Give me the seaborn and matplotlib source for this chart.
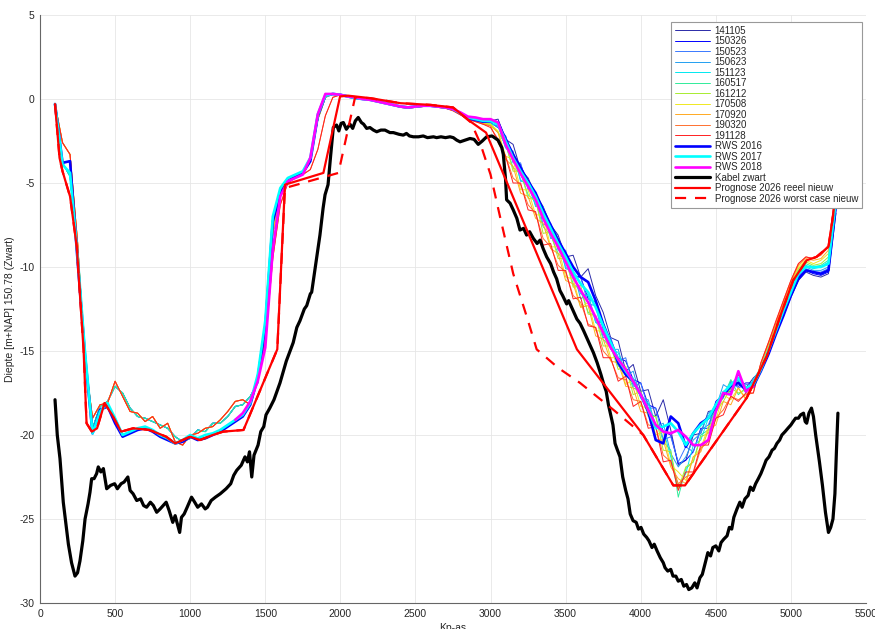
import matplotlib
matplotlib.use('Agg')
import matplotlib.pyplot as plt
import seaborn as sns

# raai-meting: kp om de 50 m
x_grid = list(range(100, 5301, 50))

# westkant (kp 100-1450) en plateau (kp 1500-2950), gedeeld door de lodingen
survey_left_1 = [-0.3, -2.6, -3.3, -8.5, -15.5, -19.0, -18.2, -18.1, -16.8, -17.7,
                 -18.6, -18.7, -19.2, -18.9, -19.6, -19.3, -20.4, -20.6, -20.0, -19.9,
                 -19.6, -19.5, -19.1, -18.6, -18.0, -17.9, -18.2, -16.5]
survey_left_2 = [-0.3, -3.8, -4.6, -9.0, -15.2, -19.6, -18.3, -18.0, -17.1, -17.5,
                 -18.4, -18.9, -19.0, -19.2, -19.4, -19.6, -20.1, -20.4, -20.2, -19.7,
                 -19.8, -19.3, -19.3, -18.9, -18.3, -18.2, -17.7, -16.9]
survey_mid_1 = [-14.0, -8.0, -5.5, -4.8, -4.6, -4.4, -3.6, -1.2, 0.1, 0.3,
                0.25, 0.15, 0.05, 0.0, -0.05, -0.15, -0.25, -0.35, -0.45, -0.5,
                -0.45, -0.4, -0.4, -0.45, -0.5, -0.6, -0.85, -1.15, -1.3, -1.45]
survey_mid_2 = [-14.5, -9.5, -6.3, -5.0, -4.7, -4.5, -4.2, -3.0, -1.0, 0.1,
                0.25, 0.15, 0.05, 0.0, -0.05, -0.15, -0.25, -0.35, -0.5, -0.55,
                -0.5, -0.45, -0.4, -0.5, -0.55, -0.7, -0.95, -1.2, -1.35, -1.5]

# oostelijke helling en geul (kp 3000-4750)
slope_141105 = [-1.3, -1.2, -2.4, -2.7, -4.2, -4.7, -5.7, -6.4, -7.5, -8.1,
                -9.4, -9.3, -10.6, -10.1, -11.7, -12.7, -14.2, -14.4, -16.2, -15.8,
                -17.4, -17.3, -18.9, -17.9, -19.7, -21.8, -21.5, -20.0, -19.9, -18.6,
                -18.5, -17.4, -17.4, -16.4, -17.2, -16.6]
slope_150326 = [-1.4, -1.7, -2.2, -3.5, -3.9, -5.1, -5.6, -7.0, -7.6, -8.6,
                -9.1, -10.5, -10.6, -11.9, -12.1, -13.7, -14.3, -15.4, -15.6, -16.7,
                -16.9, -18.2, -18.4, -19.8, -20.0, -21.7, -21.5, -21.0, -19.6, -19.6,
                -18.0, -17.6, -16.9, -17.1, -16.9, -16.9]
slope_150523 = [-1.4, -1.7, -2.2, -3.8, -3.8, -5.4, -5.5, -7.5, -7.4, -9.0,
                -9.0, -10.7, -10.6, -12.2, -12.3, -14.2, -14.2, -15.6, -15.4, -17.1,
                -16.9, -18.4, -18.4, -20.3, -20.1, -21.6, -20.7, -21.0, -19.7, -19.4,
                -18.3, -17.8, -16.8, -17.2, -17.0, -17.0]
slope_150623 = [-1.5, -1.6, -2.9, -3.1, -4.9, -4.9, -6.4, -6.4, -8.3, -8.3,
                -10.1, -10.2, -11.9, -11.6, -13.3, -13.3, -14.9, -14.9, -16.5, -16.2,
                -17.8, -17.9, -19.5, -19.3, -21.1, -21.9, -21.3, -20.3, -19.9, -18.7,
                -18.4, -17.0, -17.3, -16.7, -17.5, -16.7]
slope_151123 = [-1.5, -1.5, -2.9, -3.4, -4.8, -5.2, -6.3, -6.8, -8.1, -8.6,
                -10.0, -10.4, -11.6, -11.7, -13.3, -13.7, -14.8, -15.1, -16.3, -16.6,
                -17.8, -18.1, -19.5, -19.7, -21.3, -23.1, -22.3, -20.6, -20.3, -19.0,
                -18.7, -17.4, -17.5, -16.8, -17.4, -16.7]
slope_160517 = [-1.5, -2.0, -2.7, -4.1, -4.4, -5.7, -6.1, -7.6, -8.1, -9.2,
                -9.6, -11.0, -11.4, -12.7, -12.9, -14.3, -14.8, -15.9, -16.1, -17.2,
                -17.4, -18.7, -18.9, -20.4, -20.9, -23.7, -22.0, -21.6, -20.0, -19.7,
                -18.3, -17.7, -16.7, -17.6, -17.2, -17.2]
slope_161212 = [-1.5, -2.0, -2.6, -4.3, -4.3, -5.9, -6.0, -8.0, -7.9, -9.5,
                -9.5, -11.2, -11.1, -12.8, -12.9, -14.7, -14.7, -16.1, -15.9, -17.6,
                -17.4, -18.9, -18.9, -20.9, -21.0, -23.2, -21.9, -21.6, -20.1, -19.9,
                -18.6, -18.0, -17.2, -17.5, -17.3, -17.2]
slope_170508 = [-1.5, -1.9, -3.4, -3.6, -5.4, -5.4, -6.9, -6.9, -8.8, -8.8,
                -10.6, -10.7, -12.4, -12.1, -13.8, -13.8, -15.4, -15.4, -17.0, -16.7,
                -18.3, -18.4, -20.0, -19.8, -21.8, -22.2, -22.7, -21.3, -20.8, -19.5,
                -19.1, -17.6, -17.9, -17.2, -17.8, -17.1]
slope_170920 = [-1.6, -2.0, -3.6, -4.0, -5.6, -5.8, -7.1, -7.4, -8.9, -9.2,
                -10.8, -11.0, -12.4, -12.3, -14.1, -14.3, -15.6, -15.7, -17.1, -17.2,
                -18.6, -18.7, -20.3, -20.3, -21.9, -22.6, -22.9, -21.3, -21.0, -19.7,
                -19.4, -18.0, -18.2, -17.2, -17.9, -17.1]
slope_190320 = [-1.6, -2.6, -3.4, -4.7, -5.1, -6.3, -6.8, -8.3, -8.8, -9.9,
                -10.3, -11.7, -12.1, -13.4, -13.6, -15.0, -15.5, -16.6, -16.7, -17.9,
                -18.0, -19.4, -19.5, -21.2, -21.6, -22.9, -22.5, -22.3, -20.8, -20.4,
                -19.0, -18.5, -17.7, -17.9, -17.6, -17.5]
slope_191128 = [-1.7, -2.4, -3.4, -5.0, -5.0, -6.6, -6.7, -8.7, -8.6, -10.2,
                -10.2, -11.9, -11.8, -13.5, -13.6, -15.4, -15.4, -16.8, -16.5, -18.3,
                -18.0, -19.6, -19.5, -21.6, -21.5, -23.3, -22.2, -22.2, -20.6, -20.6,
                -19.0, -18.8, -17.7, -18.0, -17.5, -17.5]

# oostoever (kp 4800-5300)
right_141105 = [-16.2, -15.2, -14.0, -12.9, -11.8, -10.8, -10.3, -10.5, -10.6, -10.4, -6.8]
right_150326 = [-16.1, -15.0, -13.8, -12.7, -11.6, -10.6, -10.2, -10.4, -10.5, -10.3, -6.5]
right_150523 = [-16.1, -15.0, -13.8, -12.6, -11.5, -10.5, -10.1, -10.3, -10.3, -10.1, -6.4]
right_150623 = [-16.0, -14.9, -13.7, -12.5, -11.4, -10.4, -10.0, -10.2, -10.2, -10.0, -6.2]
right_151123 = [-16.0, -14.9, -13.6, -12.4, -11.3, -10.3, -9.9, -10.1, -10.0, -9.7, -6.0]
right_160517 = [-15.9, -14.8, -13.5, -12.3, -11.2, -10.2, -9.8, -10.0, -9.9, -9.6, -5.9]
right_161212 = [-15.9, -14.7, -13.5, -12.3, -11.1, -10.1, -9.7, -9.9, -9.8, -9.4, -5.8]
right_170508 = [-15.8, -14.7, -13.4, -12.2, -11.0, -10.0, -9.6, -9.8, -9.6, -9.2, -5.7]
right_170920 = [-15.8, -14.6, -13.4, -12.1, -10.9, -9.9, -9.5, -9.6, -9.5, -9.0, -5.6]
right_190320 = [-15.7, -14.5, -13.3, -12.0, -10.8, -9.8, -9.4, -9.5, -9.3, -8.8, -5.4]
right_191128 = [-15.7, -14.5, -13.2, -12.0, -10.8, -9.8, -9.4, -9.5, -9.2, -8.7, -5.3]

survey_names = ['141105', '150326', '150523', '150623', '151123', '160517',
                '161212', '170508', '170920', '190320', '191128']
survey_colors = ['#2a2aa8', '#0000ff', '#3a78ff', '#22a0f0', '#00e8f0', '#30ec9a',
                 '#a8ec30', '#f0e820', '#ffaa22', '#ff7030', '#ff2020']
survey_depths = [
    survey_left_2 + survey_mid_1 + slope_141105 + right_141105,
    survey_left_2 + survey_mid_1 + slope_150326 + right_150326,
    survey_left_2 + survey_mid_1 + slope_150523 + right_150523,
    survey_left_2 + survey_mid_1 + slope_150623 + right_150623,
    survey_left_2 + survey_mid_1 + slope_151123 + right_151123,
    survey_left_2 + survey_mid_1 + slope_160517 + right_160517,
    survey_left_1 + survey_mid_1 + slope_161212 + right_161212,
    survey_left_1 + survey_mid_1 + slope_170508 + right_170508,
    survey_left_1 + survey_mid_1 + slope_170920 + right_170920,
    survey_left_1 + survey_mid_2 + slope_190320 + right_190320,
    survey_left_1 + survey_mid_2 + slope_191128 + right_191128,
]

# RWS lodingen
rws2016 = [-0.3, -3.8, -3.7, -9.6, -15.3, -19.9, -18.5, -18.3, -19.3, -20.1,
           -19.9, -19.7, -19.6, -19.8, -20.1, -20.3, -20.5, -20.4, -20.1, -20.3,
           -20.2, -20.0, -19.8, -19.5, -19.2, -18.9, -18.2, -16.6,
           -13.6, -7.3, -5.6, -4.9, -4.6, -4.4, -3.7, -1.0, 0.2, 0.3,
           0.25, 0.15, 0.05, 0.0, -0.05, -0.15, -0.25, -0.35, -0.45, -0.5,
           -0.45, -0.4, -0.4, -0.45, -0.5, -0.6, -0.85, -1.15, -1.25, -1.35,
           -1.3, -1.4, -2.4, -3.3, -4.1, -4.9, -5.6, -6.6, -7.5, -8.4,
           -9.2, -10.0, -10.6, -10.9, -12.0, -13.4, -14.5, -15.7, -16.4, -16.8,
           -17.6, -18.6, -20.3, -20.5, -18.9, -19.3, -20.7, -19.9, -19.3, -19.0,
           -18.3, -17.6, -17.1, -16.9, -17.3, -17.1,
           -16.2, -15.2, -14.0, -12.9, -11.7, -10.7, -10.2, -10.3, -10.4, -10.2, -6.3]
rws2017 = [-0.3, -3.9, -4.4, -9.3, -15.1, -19.9, -18.6, -18.1, -19.0, -20.0,
           -19.8, -19.6, -19.5, -19.7, -20.0, -20.2, -20.5, -20.3, -20.0, -20.2,
           -20.0, -19.9, -19.7, -19.4, -19.1, -18.8, -18.1, -16.4,
           -13.2, -7.0, -5.3, -4.7, -4.5, -4.3, -3.5, -0.9, 0.2, 0.3,
           0.25, 0.15, 0.05, 0.0, -0.05, -0.15, -0.25, -0.35, -0.45, -0.5,
           -0.45, -0.4, -0.4, -0.45, -0.5, -0.6, -0.85, -1.1, -1.2, -1.3,
           -1.3, -1.5, -2.5, -3.5, -4.3, -5.0, -5.8, -6.8, -7.7, -8.6,
           -9.4, -10.3, -11.0, -11.5, -12.4, -13.5, -14.5, -15.5, -16.2, -16.8,
           -17.6, -18.5, -19.6, -19.5, -19.3, -19.8, -20.6, -19.9, -19.4, -19.0,
           -18.2, -17.5, -17.0, -16.6, -17.2, -17.0,
           -16.1, -15.0, -13.8, -12.6, -11.5, -10.4, -10.0, -10.0, -10.0, -9.8, -6.0]
# RWS 2018 loopt van kp 1300 tot 4750
rws2018_x = x_grid[24:94]
rws2018 = [-19.1, -18.7, -18.0, -16.8,
           -14.8, -9.0, -5.8, -4.9, -4.7, -4.5, -3.5, -0.9, 0.3, 0.3,
           0.25, 0.15, 0.1, 0.0, -0.05, -0.15, -0.25, -0.35, -0.45, -0.5,
           -0.45, -0.4, -0.4, -0.45, -0.5, -0.6, -0.8, -1.05, -1.1, -1.2,
           -1.2, -1.4, -2.7, -3.6, -4.45, -5.2, -6.0, -7.1, -8.0, -8.8,
           -9.7, -10.6, -11.4, -12.1, -13.0, -13.9, -14.8, -15.5, -16.1, -16.8,
           -17.6, -18.5, -19.4, -19.8, -19.9, -19.7, -20.1, -20.6, -20.6, -20.3,
           -18.6, -17.5, -17.6, -16.2, -17.4, -17.1]

# kabel
kabel_x = [100, 115, 133, 155, 189, 210, 233, 250, 266, 285, 300, 320, 333, 344, 360,
           377, 388, 405, 422, 444, 470, 497, 515, 540, 560, 585, 600, 620, 644, 670,
           690, 710, 735, 755, 777, 800, 820, 840, 860, 884, 900, 915, 930, 942, 960,
           980, 1009, 1030, 1050, 1075, 1100, 1115, 1140, 1168, 1200, 1239, 1270, 1290, 1310, 1340,
           1365, 1381, 1395, 1410, 1425, 1452, 1470, 1490, 1505, 1530, 1558, 1598, 1640, 1686, 1710,
           1731, 1760, 1776, 1800, 1809, 1840, 1864, 1885, 1898, 1918, 1935, 1953, 1975, 1990, 2005,
           2020, 2040, 2064, 2082, 2100, 2119, 2140, 2155, 2175, 2197, 2220, 2242, 2270, 2297, 2330,
           2353, 2390, 2419, 2440, 2460, 2486, 2520, 2552, 2580, 2620, 2641, 2670, 2700, 2730, 2752,
           2775, 2797, 2830, 2863, 2890, 2918, 2945, 2974, 3010, 3050, 3075, 3085, 3100, 3107, 3130,
           3151, 3175, 3196, 3220, 3240, 3260, 3285, 3310, 3330, 3350, 3374, 3400, 3420, 3440, 3462,
           3480, 3507, 3520, 3550, 3575, 3596, 3620, 3640, 3660, 3685, 3710, 3735, 3751, 3770, 3785,
           3800, 3815, 3829, 3845, 3862, 3880, 3900, 3915, 3930, 3949, 3970, 3985, 4002, 4020, 4040,
           4055, 4075, 4090, 4109, 4130, 4150, 4162, 4180, 4200, 4215, 4234, 4250, 4270, 4287, 4305,
           4320, 4340, 4360, 4375, 4394, 4410, 4430, 4447, 4465, 4480, 4500, 4520, 4535, 4553, 4575,
           4590, 4606, 4620, 4641, 4660, 4675, 4694, 4715, 4730, 4748, 4765, 4783, 4800, 4818, 4835,
           4854, 4875, 4890, 4907, 4925, 4940, 4961, 4980, 5000, 5015, 5031, 5050, 5065, 5084, 5095,
           5105, 5120, 5137, 5150, 5165, 5190, 5210, 5230, 5250, 5265, 5280, 5293, 5303, 5313]
kabel_y = [-17.9, -20.0, -21.4, -24.0, -26.5, -27.6, -28.4, -28.2, -27.5, -26.3, -25.0, -24.1, -23.4, -22.6, -22.6,
           -22.3, -21.9, -22.2, -22.0, -23.2, -23.0, -22.9, -23.2, -22.9, -22.8, -22.5, -23.3, -23.5, -23.9, -23.8,
           -24.2, -24.3, -24.0, -24.2, -24.6, -24.4, -24.2, -24.0, -24.5, -25.2, -24.8, -25.3, -25.8, -24.9, -24.7,
           -24.3, -23.7, -24.0, -24.3, -24.1, -24.4, -24.3, -23.9, -23.7, -23.5, -23.2, -22.9, -22.4, -22.1, -21.8,
           -21.3, -21.6, -21.0, -22.5, -21.2, -20.6, -19.8, -19.5, -18.8, -18.4, -17.9, -16.9, -15.6, -14.5, -13.6,
           -13.2, -12.5, -12.3, -11.6, -11.5, -9.6, -8.1, -6.5, -5.7, -5.1, -3.4, -1.7, -1.55, -1.9, -1.45,
           -1.4, -1.8, -1.5, -1.75, -1.3, -1.1, -1.4, -1.5, -1.75, -1.7, -1.85, -1.95, -1.85, -1.85, -2.0,
           -2.0, -2.1, -2.15, -2.05, -2.2, -2.25, -2.25, -2.2, -2.3, -2.25, -2.3, -2.25, -2.3, -2.25, -2.3,
           -2.45, -2.55, -2.45, -2.35, -2.4, -2.7, -2.5, -2.25, -2.2, -2.45, -2.9, -3.3, -4.8, -6.0, -6.2,
           -6.6, -7.1, -7.8, -7.7, -8.1, -7.9, -8.3, -8.6, -8.4, -8.9, -9.4, -9.8, -10.3, -10.7, -11.4,
           -11.7, -12.2, -12.0, -12.6, -13.1, -13.35, -13.8, -14.2, -14.6, -15.1, -15.7, -16.4, -16.9, -17.4, -18.2,
           -18.8, -19.4, -20.5, -20.9, -21.3, -22.5, -23.3, -23.8, -24.7, -25.1, -25.2, -25.6, -25.5, -25.9, -26.1,
           -26.3, -26.7, -26.5, -26.9, -27.3, -27.6, -27.9, -28.1, -28.0, -28.4, -28.4, -28.7, -28.6, -29.0, -28.9,
           -29.2, -29.1, -28.8, -29.1, -28.5, -28.3, -27.6, -27.0, -27.2, -26.7, -26.6, -26.9, -26.4, -26.2, -26.0,
           -25.5, -25.6, -24.9, -24.4, -24.0, -24.3, -23.8, -23.6, -23.1, -23.3, -22.9, -22.6, -22.3, -21.9, -21.5,
           -21.3, -20.9, -20.8, -20.5, -20.3, -20.0, -19.8, -19.6, -19.4, -19.2, -19.0, -19.0, -18.8, -18.7, -19.2,
           -19.3, -18.7, -18.4, -18.9, -20.0, -21.6, -23.0, -24.6, -25.8, -25.5, -25.0, -23.5, -21.0, -18.7]

# prognoses 2026 (knikpunten)
prog_x = [100, 130, 150, 200, 245, 290, 310, 345, 380, 430, 480, 540, 620, 730, 840,
          900, 1000, 1065, 1150, 1220, 1355, 1580, 1631, 1887, 1998, 2050, 2200, 2400, 2600, 2750,
          2860, 2970, 3575, 4017, 4217, 4295, 4705, 4840, 4930, 5015, 5105, 5170, 5250, 5280, 5305]
prog_y = [-0.3, -3.5, -4.3, -5.8, -8.8, -14.9, -19.3, -19.8, -19.6, -18.1, -18.8, -19.8, -19.6, -19.7, -20.1,
          -20.5, -20.1, -20.3, -20.0, -19.8, -19.7, -14.9, -5.1, -4.4, 0.15, 0.2, 0.05, -0.25, -0.35, -0.5,
          -1.3, -2.0, -14.9, -20.0, -23.0, -23.0, -17.8, -15.3, -12.9, -10.8, -9.6, -9.4, -8.8, -7.0, -5.0]
worst_x = prog_x[:22] + [1631, 1987, 2098, 2200, 2400, 2600, 2750, 2870, 2930, 3000, 3063, 3151,
                         3241, 3307, 3450, 3596, 3818, 4017] + prog_x[34:]
worst_y = prog_y[:22] + [-5.3, -4.4, 0.1, 0.05, -0.25, -0.35, -0.5, -1.4, -2.6, -4.5, -7.0, -10.4,
                         -12.95, -14.9, -16.0, -16.9, -18.5, -20.0] + prog_y[34:]

sns.set_style('white')
plt.rcParams['font.family'] = ['Liberation Sans', 'DejaVu Sans']
plt.rcParams['axes.unicode_minus'] = False

fig = plt.figure(figsize=(8.75, 6.29), dpi=100)
ax = fig.add_axes([40 / 875, 26 / 629, 826 / 875, 588 / 629])

for name, col, depth in zip(survey_names, survey_colors, survey_depths):
    sns.lineplot(x=x_grid, y=depth, ax=ax, color=col, linewidth=0.7, label=name,
                 sort=False, estimator=None)

sns.lineplot(x=x_grid, y=rws2016, ax=ax, color='#0000ff', linewidth=1.9, label='RWS 2016',
             sort=False, estimator=None)
sns.lineplot(x=x_grid, y=rws2017, ax=ax, color='#00ffff', linewidth=1.9, label='RWS 2017',
             sort=False, estimator=None)
sns.lineplot(x=rws2018_x, y=rws2018, ax=ax, color='#ff00ff', linewidth=1.9, label='RWS 2018',
             sort=False, estimator=None)
sns.lineplot(x=kabel_x, y=kabel_y, ax=ax, color='black', linewidth=2.3, label='Kabel zwart',
             sort=False, estimator=None)
sns.lineplot(x=prog_x, y=prog_y, ax=ax, color='#ff0000', linewidth=1.6,
             label='Prognose 2026 reeel nieuw', sort=False, estimator=None)
sns.lineplot(x=worst_x, y=worst_y, ax=ax, color='#ff0000', linewidth=1.6, linestyle=(0, (5, 4)),
             label='Prognose 2026 worst case nieuw', sort=False, estimator=None)

ax.set_xlim(0, 5500)
ax.set_ylim(-30, 5)
ax.set_xticks(range(0, 5501, 500))
ax.set_yticks(range(-30, 6, 5))
ax.grid(True, color='#e6e6e6', linewidth=0.6)
ax.set_axisbelow(True)
for side in ['top', 'right']:
    ax.spines[side].set_visible(False)
for side in ['left', 'bottom']:
    ax.spines[side].set_color('#666666')
    ax.spines[side].set_linewidth(0.8)
ax.tick_params(direction='in', length=4, width=0.6, color='#555555',
               labelsize=7.5, labelcolor='#262626', pad=4)

ax.set_xlabel('Kp-as', fontsize=7.5, color='#262626', labelpad=3)
ax.set_ylabel('Diepte [m+NAP] 150.78 (Zwart)', fontsize=7.5, color='#262626', labelpad=3)

leg = ax.legend(loc='upper right', bbox_to_anchor=(822 / 826, 581 / 588), borderaxespad=0,
                fontsize=7.0, labelspacing=0.05, handlelength=3.6, handletextpad=0.5,
                borderpad=0.4, fancybox=False, framealpha=1, edgecolor='#999999')
leg.get_frame().set_linewidth(0.8)

fig.savefig('out.png', dpi=100)
